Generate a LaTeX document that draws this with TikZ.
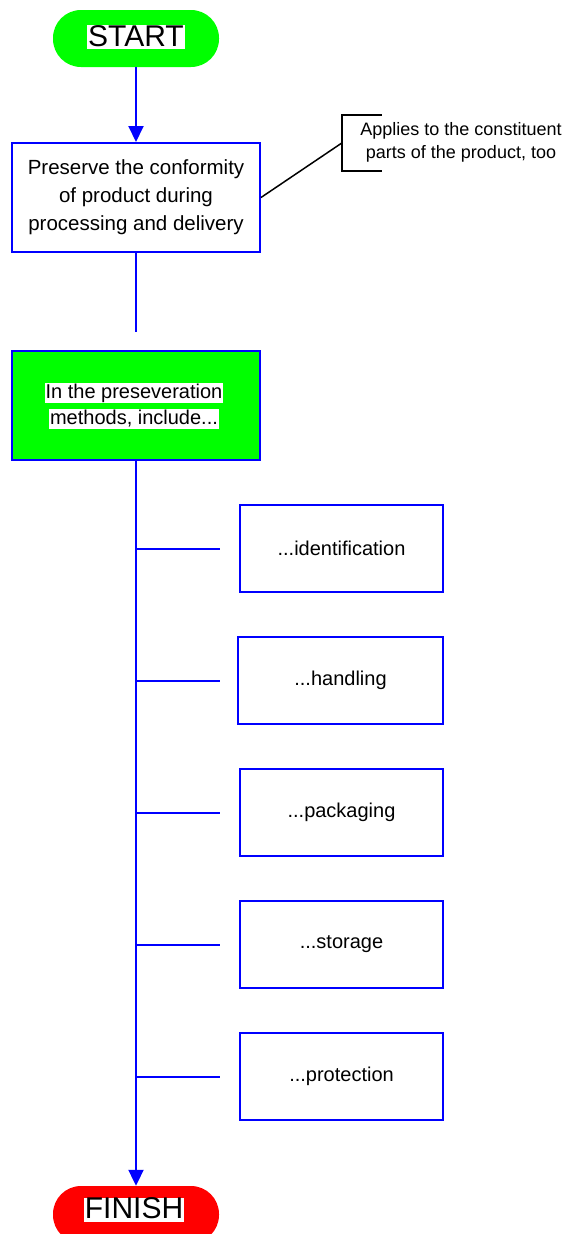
\documentclass[tikz,border=0pt]{standalone}
\usepackage{fontspec}
\setmainfont{Liberation Sans}
\usetikzlibrary{arrows.meta}
\definecolor{flowblue}{RGB}{0,0,255}
\definecolor{startgreen}{RGB}{0,255,0}
\definecolor{finishred}{RGB}{255,0,0}

\begin{document}
\begin{tikzpicture}[x=1pt,y=-1pt,
  flow/.style={draw=flowblue, line width=2pt},
  flowarrow/.style={flow, -{Triangle[width=15pt,length=16pt]}},
  terminal/.style={rounded corners=28pt, minimum width=166pt, minimum height=57pt, inner sep=0pt},
  termlabel/.style={fill=white, inner xsep=1pt, inner ysep=0pt, text height=21pt, text depth=3pt,
    font=\fontsize{30}{30}\selectfont},
  stepbox/.style={draw=flowblue, line width=2pt, minimum width=248pt, minimum height=109pt,
    inner sep=0pt, align=center, font=\fontsize{20.5}{28}\selectfont},
  greenlabel/.style={fill=white, inner xsep=1pt, inner ysep=0pt, text height=15pt, text depth=5pt,
    font=\fontsize{20}{20}\selectfont},
  itembox/.style={draw=flowblue, line width=2pt, minimum width=203pt, minimum height=87pt,
    inner sep=0pt, font=\fontsize{20}{24}\selectfont},
  notetext/.style={align=center, inner sep=0pt, font=\fontsize{18}{23}\selectfont},
  noteline/.style={draw=black, line width=1.5pt}
]
\useasboundingbox (0,0) rectangle (569,1234);
\clip (0,0) rectangle (569,1234);

% start terminal
\node[terminal, fill=startgreen] (start) at (136,38.5) {};
\node[termlabel] (startlbl) at (136,37) {START};

% first process step
\node[stepbox] (preserve) at (136,197.5) {Preserve the conformity\\of product during\\processing and delivery};
\draw[flowarrow] (start) -- (preserve);
\coordinate (preserveend) at (136,332);
\draw[flow] (preserve.south) -- (preserveend);

% annotation with bracket
\node[notetext] (note) at (461,142) {Applies to the constituent\\parts of the product, too};
\node[minimum width=227pt, minimum height=56pt, inner sep=0pt] (bracket) at (455.5,143) {};
\draw[noteline] ([xshift=40pt]bracket.north west) -- (bracket.north west)
  -- (bracket.south west) -- ([xshift=40pt]bracket.south west);
\draw[noteline] (preserve.east) -- (bracket.west);

% preservation methods
\node[stepbox, fill=startgreen] (methods) at (136,405.5) {};
\node[greenlabel] (methodsA) at (134,393) {In the preseveration};
\node[greenlabel] (methodsB) at (134,419) {methods, include...};

% finish terminal
\node[terminal, fill=finishred] (finish) at (136,1214.5) {};
\node[termlabel] (finishlbl) at (134,1209.5) {FINISH};
\draw[flowarrow] (methods.south) -- (finish.north);

% method items
\node[itembox] (ident) at (341.5,548.5) {...identification};
\node[itembox, minimum width=205pt] (handling) at (340.5,680.5) {...handling};
\node[itembox] (packaging) at (341.5,812.5) {...packaging};
\node[itembox] (storage) at (341.5,944.5) {...storage};
\node[itembox] (protection) at (341.5,1076.5) {...protection};

\draw[flow, shorten >=19pt] (methods.south |- ident.west) -- (ident.west);
\draw[flow, shorten >=17pt] (methods.south |- handling.west) -- (handling.west);
\draw[flow, shorten >=19pt] (methods.south |- packaging.west) -- (packaging.west);
\draw[flow, shorten >=19pt] (methods.south |- storage.west) -- (storage.west);
\draw[flow, shorten >=19pt] (methods.south |- protection.west) -- (protection.west);
\end{tikzpicture}
\end{document}
